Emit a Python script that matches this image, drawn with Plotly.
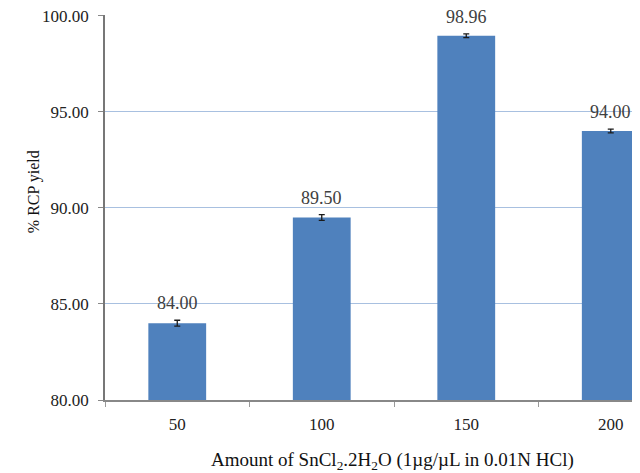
import plotly.graph_objects as go

categories = ["50", "100", "150", "200"]
values = [84.00, 89.50, 98.96, 94.00]
errors = [0.15, 0.15, 0.10, 0.10]
labels = ["84.00", "89.50", "98.96", "94.00"]
y_ticks = [80, 85, 90, 95, 100]
y_tick_labels = ["80.00", "85.00", "90.00", "95.00", "100.00"]
x_title = "Amount of SnCl<sub>2</sub>.2H<sub>2</sub>O (1µg/µL in 0.01N HCl)"
y_title = "% RCP yield"

xpos = list(range(len(categories)))
font = "Liberation Serif"

fig = go.Figure()
fig.add_trace(go.Bar(
    x=xpos, y=values, width=0.4,
    marker=dict(color="#4f81bd", line=dict(width=0)),
    error_y=dict(type="data", array=errors, visible=True, color="#1a1a1a",
                 thickness=1.3, width=3),
    hoverinfo="skip",
))

for x, v, e, t in zip(xpos, values, errors, labels):
    fig.add_annotation(x=x, y=v + e, text=t, showarrow=False, yanchor="bottom",
                       yshift=5, font=dict(family=font, size=18, color="#404040"))

# axis titles as annotations (positioned off-centre like the reference)
fig.add_annotation(xref="paper", yref="paper", x=0.545, y=-0.158, text=x_title,
                   showarrow=False, xanchor="center", yanchor="middle",
                   font=dict(family=font, size=19, color="#111111"))
fig.add_annotation(xref="paper", yref="paper", x=-0.135, y=0.542, text=y_title,
                   showarrow=False, textangle=-90, xanchor="center", yanchor="middle",
                   font=dict(family=font, size=16, color="#111111"))

# page body has an 8px default margin, so the figure is 632x465 placed at (8, 8)
fig.update_layout(
    width=632, height=465,
    margin=dict(l=97, r=8, t=7, b=73, autoexpand=False),
    paper_bgcolor="white", plot_bgcolor="white",
    showlegend=False,
    font=dict(family=font, size=17, color="#222222"),
    bargap=0.6,
)
fig.update_xaxes(
    range=[-0.5, 3.147], tickvals=xpos, ticktext=categories, ticks="",
    showline=True, linecolor="#888888", linewidth=1.5, showgrid=False,
    automargin=False, ticklabelstandoff=8,
    minor=dict(ticks="outside", tick0=0.5, dtick=1, ticklen=5, tickcolor="#999999", showgrid=False),
    tickfont=dict(family=font, size=17, color="#222222"),
)
fig.update_yaxes(
    range=[80, 100.04], tickvals=y_ticks, ticktext=y_tick_labels,
    ticks="outside", ticklen=5, tickcolor="#888888",
    showline=True, linecolor="#777777", linewidth=1.5,
    showgrid=True, gridcolor="#a8c0e0", gridwidth=1, zeroline=False,
    automargin=False, ticklabelstandoff=6, ticklabeloverflow="allow",
    tickfont=dict(family=font, size=17, color="#222222"),
)

fig.write_html("out.html")
